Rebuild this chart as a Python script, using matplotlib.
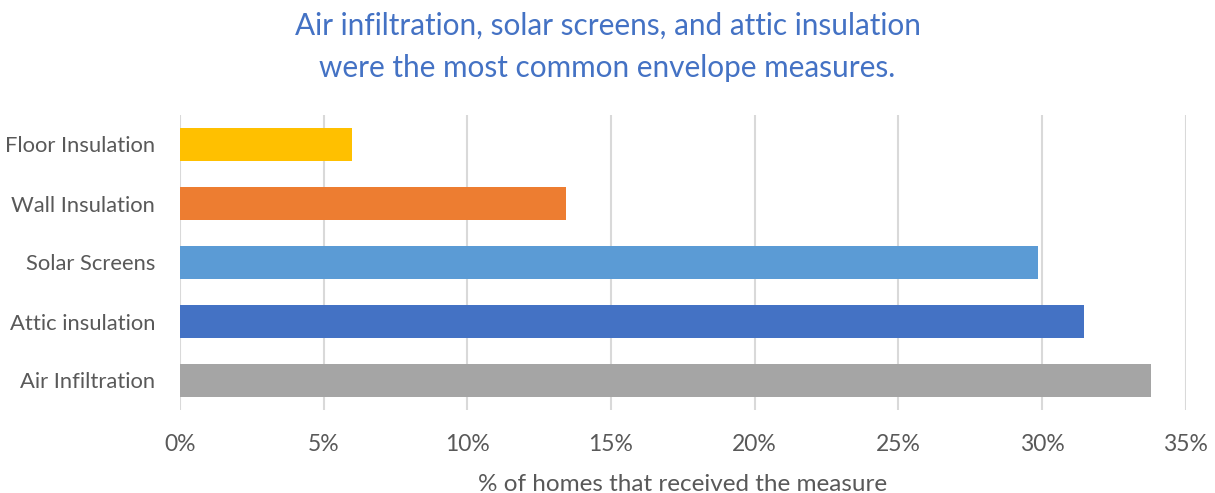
import matplotlib
matplotlib.use('Agg')
import matplotlib.pyplot as plt
from matplotlib.ticker import PercentFormatter

plt.rcParams['font.family'] = ['Lato', 'DejaVu Sans']

categories = ['Air Infiltration', 'Attic insulation', 'Solar Screens', 'Wall Insulation', 'Floor Insulation']
values = [33.8, 31.45, 29.85, 13.45, 6.0]
colors = ['#A5A5A5', '#4472C4', '#5B9BD5', '#ED7D31', '#FFC000']
xticks = [0, 5, 10, 15, 20, 25, 30, 35]

text_color = '#595959'

fig = plt.figure(figsize=(12.15, 4.93), dpi=100)
ax = fig.add_axes([180 / 1215, 1 - 410 / 493, (1185.7 - 180) / 1215, (410 - 115) / 493])

ax.barh(range(len(categories)), values, height=0.566, color=colors, zorder=3)
ax.set_xlim(0, 35)
ax.set_ylim(-0.5, 4.5)
ax.set_yticks(range(len(categories)))
ax.set_yticklabels(categories, fontsize=15.8, color=text_color)
ax.set_xticks(xticks)
ax.xaxis.set_major_formatter(PercentFormatter(decimals=0))
for t in ax.get_xticklabels():
    t.set_fontsize(16.5)
    t.set_color(text_color)
ax.tick_params(axis='both', length=0)
ax.tick_params(axis='x', pad=17)
ax.tick_params(axis='y', pad=18)
ax.grid(axis='x', color='#D9D9D9', lw=1.5, zorder=0)
for s in ax.spines.values():
    s.set_visible(False)

ax.set_xlabel('% of homes that received the measure', fontsize=17.5, color=text_color, labelpad=14)

fig.text(0.5, 0.976, 'Air infiltration, solar screens, and attic insulation\nwere the most common envelope measures.',
         ha='center', va='top', fontsize=21.4, color='#4472C4', linespacing=1.6)

fig.savefig('out.png', dpi=100)
plt.close()
